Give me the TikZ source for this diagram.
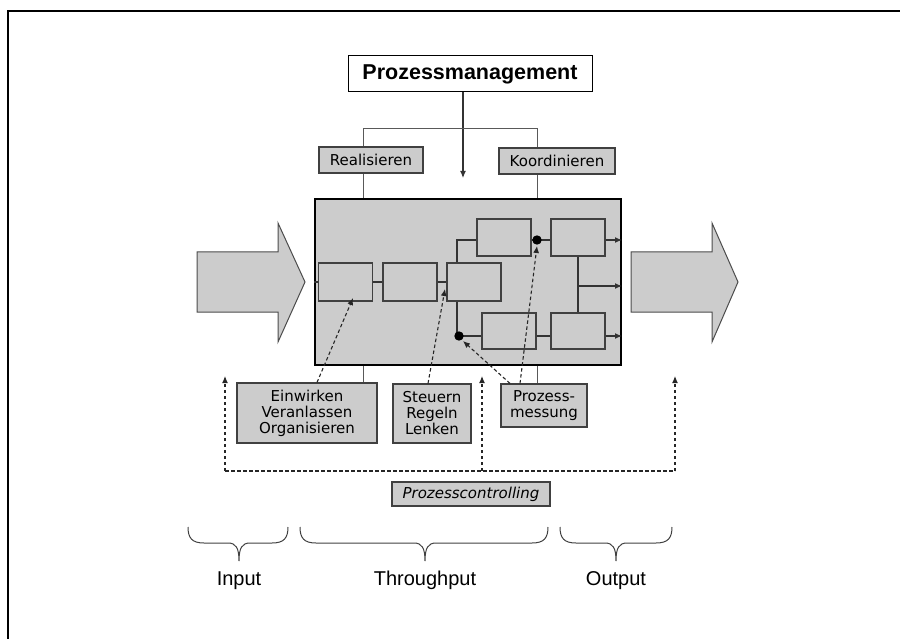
\documentclass[tikz,border=0pt]{standalone}
\usepackage{fontspec}
\setmainfont{DejaVu Sans}
\newfontfamily\arialfam{Liberation Sans}
\usetikzlibrary{arrows.meta}

% curly brace below a phase: left end, tip, right end (x values)
\newcommand\phasebrace[3]{%
  \draw[brace] (#1,527) .. controls (#1,538) and ({#1+4},543) .. ({#1+16},543)
    -- ({#2-11},543) .. controls ({#2-3},543) and (#2,548) .. (#2,561)
    .. controls (#2,548) and ({#2+3},543) .. ({#2+11},543)
    -- ({#3-16},543) .. controls ({#3-4},543) and (#3,538) .. (#3,527);}

\begin{document}
\begin{tikzpicture}[x=1pt,y=-1pt,
  lbl/.style={draw=black!75, line width=1.1pt, fill=gray!40, inner sep=0pt,
    font=\fontsize{15}{16}\selectfont, align=center},
  inbox/.style={draw=black!75, line width=1.1pt, fill=gray!40, inner sep=0pt,
    minimum width=54pt},
  wire/.style={draw=black!80, line width=1.1pt},
  thinwire/.style={draw=black!65, line width=1pt},
  tip/.style={-{Latex[length=7pt,width=6pt]}},
  fbline/.style={draw=black!85, line width=1.1pt, dash pattern=on 3.5pt off 2.5pt},
  fb/.style={fbline, -{Latex[length=7pt,width=6pt]}},
  bigarrow/.style={draw=black!70, line width=1pt, fill=gray!40},
  brace/.style={draw=black!75, line width=1pt},
  phase/.style={font=\arialfam\fontsize{20}{24}\selectfont, anchor=base, inner sep=0pt}
]
\useasboundingbox (0,0) rectangle (900,639);

% page frame
\draw[line width=2pt] (8.3,639) -- (8.3,11) -- (900,11);

% management on top
\node[draw=black, line width=1pt, fill=white, minimum width=244pt, minimum height=36pt,
      inner sep=0pt, font=\arialfam\bfseries\fontsize{21.5}{24}\selectfont]
  (pm) at (470,74) {Prozessmanagement};

% process block
\node[draw=black, line width=2pt, fill=gray!40, minimum width=306pt, minimum height=166pt,
      inner sep=0pt] (proc) at (468,282) {};

\coordinate (mgmt) at (463,178);
\draw[wire, tip] (pm.south -| mgmt) -- (mgmt);

\coordinate (br1) at (363,129);
\coordinate (br2) at (537,129);
\draw[thinwire] (proc.north -| br1) -- (br1) -- (br2) -- (proc.north -| br2);

\node[lbl, minimum width=104pt, minimum height=26pt] (real) at (371,160) {Realisieren};
\node[lbl, minimum width=116pt, minimum height=26pt] (koord) at (557,161) {Koordinieren};

% input / output arrows
\draw[bigarrow] (197,252) -- (278,252) -- (278,223) -- (305,282) -- (278,342)
  -- (278,312) -- (197,312) -- cycle;
\draw[bigarrow] (631,252) -- (712,252) -- (712,223) -- (738,282) -- (712,342)
  -- (712,312) -- (631,312) -- cycle;

% inner steps
\node[inbox, minimum height=38pt] (b1) at (345.5,282) {};
\node[inbox, minimum height=38pt] (b2) at (410,282) {};
\node[inbox, minimum height=38pt] (b3) at (474,282) {};
\node[inbox, minimum height=37pt] (b4) at (504,237.5) {};
\node[inbox, minimum height=37pt] (b5) at (578,237.5) {};
\node[inbox, minimum height=36pt] (b6) at (509,331) {};
\node[inbox, minimum height=36pt] (b7) at (578,331) {};

\coordinate (j1) at (457,240);
\coordinate (j2) at (457,336);
\coordinate (j3) at (578,286);
\draw[wire] (proc.west) -- (b1.west);
\draw[wire] (b1) -- (b2);
\draw[wire] (b2) -- (b3);
\draw[wire] (b3.north -| j1) -- (j1) -- (j1 -| b4.west);
\draw[wire] (b3.south -| j2) -- (j2) -- (j2 -| b6.west);
\draw[wire] (j1 -| b4.east) -- (j1 -| b5.west);
\draw[wire] (j2 -| b6.east) -- (j2 -| b7.west);
\draw[wire] (b5.south -| j3) -- (b7.north -| j3);
\draw[wire, tip] (j1 -| b5.east) -- (j1 -| proc.east);
\draw[wire, tip] (j3) -- (j3 -| proc.east);
\draw[wire, tip] (j2 -| b7.east) -- (j2 -| proc.east);

% measuring points
\coordinate (d1) at (459,336);
\coordinate (d2) at (537,240);
\fill (d1) circle (4.7pt);
\fill (d2) circle (4.7pt);

% lower labels
\draw[thinwire] (proc.south -| br1) -- (363,383);
\draw[thinwire] (proc.south -| br2) -- (537,384);
\node[lbl, minimum width=140pt, minimum height=60pt] (ein) at (307,413)
  {Einwirken\\Veranlassen\\Organisieren};
\node[lbl, minimum width=78pt, minimum height=59pt] (steu) at (432,413.5)
  {Steuern\\Regeln\\Lenken};
\node[lbl, minimum width=86pt, minimum height=43pt] (mess) at (544,405.5)
  {Prozess-\\messung};

% influence arrows
\coordinate (s1) at (317,0);
\coordinate (s2) at (428,0);
\coordinate (s3) at (510,0);
\coordinate (s4) at (520,0);
\draw[fb] (ein.north -| s1) -- (353,298);
\draw[fb] (steu.north -| s2) -- (445,289);
\draw[fb] (mess.north -| s3) -- (463,341);
\draw[fb] (mess.north -| s4) -- (537,246);

% controlling loop
\coordinate (f1) at (225,471);
\coordinate (f2) at (482,471);
\coordinate (f3) at (675,471);
\draw[fbline] (f1) -- (f3);
\draw[fb] (f1) -- (225,376);
\draw[fb] (f2) -- (482,376);
\draw[fb] (f3) -- (675,376);
\node[lbl, minimum width=158pt, minimum height=24pt, font=\itshape\fontsize{15}{16}\selectfont]
  (ctrl) at (471,494) {Prozesscontrolling};

% phases
\phasebrace{188}{239}{288}
\phasebrace{300}{425}{548}
\phasebrace{560}{616}{672}
\node[phase] (in) at (239,585) {Input};
\node[phase] (through) at (425,585) {Throughput};
\node[phase] (out) at (616,585) {Output};
\end{tikzpicture}
\end{document}
